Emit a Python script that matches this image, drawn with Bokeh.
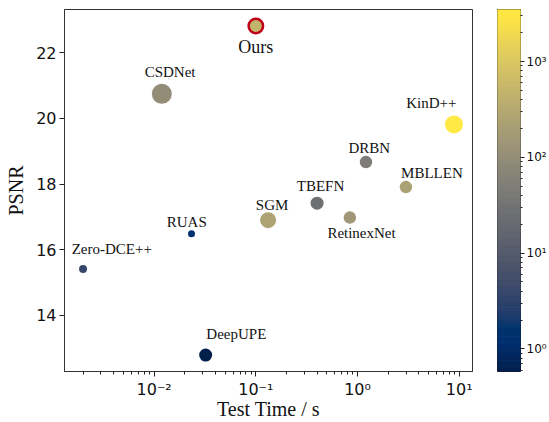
import numpy as np
from bokeh.plotting import figure
from bokeh.models import Range1d, FixedTicker, ColumnDataSource, LabelSet
from bokeh.layouts import row
from bokeh.palettes import Cividis256
from bokeh.embed import file_html
from bokeh.resources import INLINE
from bokeh.core.properties import value, field

# ---------------- data ----------------
methods = ["Zero-DCE++", "RUAS", "DeepUPE", "CSDNet", "Ours", "SGM",
           "TBEFN", "RetinexNet", "DRBN", "MBLLEN", "KinD++"]
test_time = [0.0020, 0.0233, 0.0321, 0.0119, 0.100, 0.132,
             0.40, 0.84, 1.21, 2.99, 8.87]
psnr = [15.41, 16.49, 12.79, 20.75, 22.82, 16.90,
        17.42, 16.98, 18.67, 17.91, 19.82]
color_value = [3.9, 1.4, 0.58, 100, 500, 250, 26, 150, 48, 230, 3500]

x_tick_values = [0.01, 0.1, 1, 10]
x_tick_labels = ["10⁻²", "10⁻¹", "10⁰", "10¹"]
y_tick_values = [14, 16, 18, 20, 22]
cb_tick_values = [1, 10, 100, 1000]
cb_tick_labels = ["10⁰", "10¹", "10²", "10³"]

# ---------------- styles ----------------
marker_size = [8, 7, 13, 20, 14.5, 16, 13, 12.5, 12.5, 12.5, 18]
label_dx = [28.7, -4.7, 30.7, 8.3, 0, 4, 3.4, 11.7, 3.3, 26, -22.6]
label_dy = [20.4, 11.3, 21, 21.4, -21.4, 14.7, 17.6, -15.3, 14.6, 13.7, 21]
label_fs = ["18px" if m == "Ours" else "15px" for m in methods]

lo, hi = min(color_value), max(color_value)
llo, lhi = np.log10(lo), np.log10(hi)
def cmap(v):
    t = (np.log10(v) - llo) / (lhi - llo)
    return Cividis256[int(np.clip(round(t * 255), 0, 255))]
colors = [cmap(v) for v in color_value]

# axis ranges with 5% margins (as matplotlib autoscale)
lx = np.log10(test_time)
px = 0.05 * (lx.max() - lx.min())
x_range = Range1d(10 ** (lx.min() - px), 10 ** (lx.max() + px))
py = 0.05 * (max(psnr) - min(psnr))
y_range = Range1d(min(psnr) - py, max(psnr) + py)

is_ours = [m == "Ours" for m in methods]
def subset(mask):
    idx = [i for i, k in enumerate(mask) if k]
    return ColumnDataSource(dict(
        x=[test_time[i] for i in idx], y=[psnr[i] for i in idx],
        c=[colors[i] for i in idx], s=[marker_size[i] for i in idx]))

src_others = subset([not k for k in is_ours])
src_ours = subset(is_ours)
src_labels = ColumnDataSource(dict(x=test_time, y=psnr, t=methods,
                                   dx=label_dx, dy=label_dy, fs=label_fs))

p = figure(width=476, height=422, x_axis_type="log",
           x_range=x_range, y_range=y_range,
           toolbar_location=None, output_backend="svg",
           min_border_left=64, min_border_right=4,
           min_border_top=9, min_border_bottom=49)
p.grid.visible = False
p.outline_line_color = "#333333"
p.outline_line_width = 1

p.scatter("x", "y", source=src_others, size="s", fill_color="c", line_color=None)
p.scatter("x", "y", source=src_ours, size="s", fill_color="c",
          line_color="#c00018", line_width=2.5)

labels = LabelSet(x="x", y="y", text="t", source=src_labels,
                  x_offset="dx", y_offset="dy",
                  text_font=value("Liberation Serif"), text_font_size=field("fs"),
                  text_align="center", text_baseline="middle", text_color="#111111")
p.add_layout(labels)

minor_x = [m * 10.0 ** e for e in range(-3, 2) for m in range(2, 10)]
p.xaxis.ticker = FixedTicker(ticks=x_tick_values, minor_ticks=minor_x)
p.xaxis.major_label_overrides = dict(zip(x_tick_values, x_tick_labels))
p.yaxis.ticker = FixedTicker(ticks=y_tick_values)

for ax in (p.xaxis[0], p.yaxis[0]):
    ax.axis_line_color = "#333333"
    ax.major_tick_line_color = "#222222"
    ax.minor_tick_line_color = "#222222"
    ax.major_tick_out = 5
    ax.major_tick_in = 0
    ax.minor_tick_out = 3
    ax.minor_tick_in = 0
    ax.major_label_text_font = "DejaVu Sans"
    ax.major_label_text_font_size = "16px"
    ax.major_label_text_color = "#111111"
    ax.major_label_standoff = 3
    ax.axis_label_text_font = "Liberation Serif"
    ax.axis_label_text_font_size = "20px"
    ax.axis_label_text_font_style = "normal"
    ax.axis_label_text_color = "#111111"

p.yaxis.minor_tick_line_color = None
p.xaxis.axis_label = "Test Time / s"
p.yaxis.axis_label = "PSNR"
p.xaxis.major_label_standoff = 3
p.xaxis.axis_label_standoff = -4
p.yaxis.axis_label_standoff = 6

# ---------------- colour bar ----------------
cb = figure(width=73, height=422, y_axis_type="log",
            y_range=Range1d(lo, hi), x_range=Range1d(0, 1),
            x_axis_location=None, y_axis_location="right",
            toolbar_location=None, output_backend="svg",
            min_border_left=21, min_border_right=0,
            min_border_top=9, min_border_bottom=49)
cb.grid.visible = False
edges = np.logspace(llo, lhi, 257)
cb.quad(left=0, right=1, bottom=edges[:-1], top=edges[1:],
        fill_color=list(Cividis256), line_color=list(Cividis256), line_width=1)
cb.outline_line_color = "#222222"
cb.outline_line_width = 1
minor_cb = [m * 10.0 ** e for e in range(-1, 4) for m in range(2, 10)]
ya = cb.yaxis[0]
ya.ticker = FixedTicker(ticks=cb_tick_values, minor_ticks=minor_cb)
ya.major_label_overrides = dict(zip(cb_tick_values, cb_tick_labels))
ya.axis_line_color = None
ya.major_tick_out = 4
ya.major_tick_in = 0
ya.minor_tick_out = 2
ya.minor_tick_in = 0
ya.major_tick_line_color = "#222222"
ya.minor_tick_line_color = "#222222"
ya.major_label_text_font = "DejaVu Sans"
ya.major_label_text_font_size = "12px"
ya.major_label_text_color = "#111111"
ya.major_label_standoff = 2

layout = row(p, cb)
open("out.html", "w").write(file_html(layout, INLINE))
